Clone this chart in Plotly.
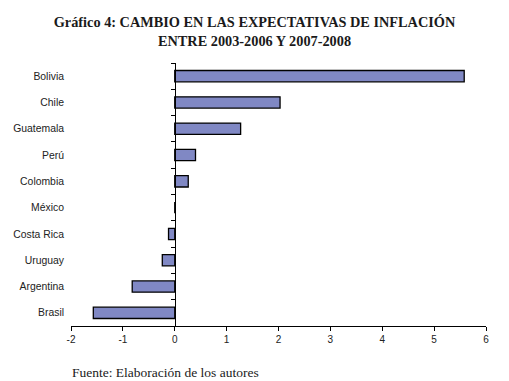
import plotly.graph_objects as go

countries = ["Bolivia", "Chile", "Guatemala", "Perú", "Colombia", "México",
             "Costa Rica", "Uruguay", "Argentina", "Brasil"]
cambio = [5.58, 2.03, 1.27, 0.40, 0.26, 0.0, -0.12, -0.24, -0.82, -1.57]
x_ticks = [-2, -1, 0, 1, 2, 3, 4, 5, 6]
x_tick_labels = [str(v) for v in x_ticks]

bar_color = "#8088C4"

fig = go.Figure()
fig.add_trace(go.Bar(
    x=cambio, y=countries, orientation="h", yaxis="y",
    marker=dict(color=bar_color, line=dict(color="black", width=1.3)),
    width=0.43, hoverinfo="skip", showlegend=False,
))
# invisible copy to carry category labels on the left edge
fig.add_trace(go.Bar(
    x=cambio, y=countries, orientation="h", yaxis="y2",
    marker=dict(color="rgba(0,0,0,0)", line=dict(width=0)),
    width=0.43, hoverinfo="skip", showlegend=False,
))

font_sans = "Liberation Sans, Arial, sans-serif"
font_serif = "Liberation Serif, Times New Roman, serif"

fig.update_layout(
    width=509, height=381,
    margin=dict(l=71, r=23, t=63, b=55),
    paper_bgcolor="white", plot_bgcolor="white",
    title=dict(
        text="<b>Gráfico 4: CAMBIO EN LAS EXPECTATIVAS DE INFLACIÓN<br>ENTRE 2003-2006 Y 2007-2008</b>",
        x=0.5, xref="container", xanchor="center",
        y=1 - 27 / 381, yref="container", yanchor="top",
        font=dict(family=font_serif, size=14.3, color="#1a1a1a"),
    ),
    xaxis=dict(
        range=[-2, 6], tickvals=x_ticks, ticktext=x_tick_labels,
        ticks="outside", ticklen=4,
        tickcolor="black", tickwidth=1,
        showline=True, linecolor="black", linewidth=1.3,
        showgrid=False, zeroline=False,
        tickfont=dict(family=font_sans, size=10, color="#222"),
        fixedrange=True,
    ),
    yaxis=dict(
        type="category", categoryorder="array", categoryarray=countries,
        autorange="reversed",
        anchor="free", position=0.25,
        showline=True, linecolor="black", linewidth=1.3,
        ticks="outside", ticklen=4, tickcolor="black", tickwidth=1,
        tickson="boundaries", showticklabels=False,
        showgrid=False, zeroline=False,
    ),
    yaxis2=dict(
        type="category", categoryorder="array", categoryarray=countries,
        autorange="reversed", overlaying="y",
        anchor="free", position=0, side="left",
        showline=False, ticks="", showgrid=False, zeroline=False,
        tickfont=dict(family=font_sans, size=10.4, color="#222"),
        ticklabelstandoff=7,
    ),
    annotations=[dict(
        text="Fuente: Elaboración de los autores",
        xref="paper", x=-1 / 415, xanchor="left",
        yref="paper", y=-(372 - 326) / 263, yanchor="middle",
        showarrow=False,
        font=dict(family=font_serif, size=13.5, color="#1a1a1a"),
    )],
)

fig.write_html("out.html",
               config={"displayModeBar": False},
               post_script="document.body.style.margin='0';document.body.style.padding='0';")
